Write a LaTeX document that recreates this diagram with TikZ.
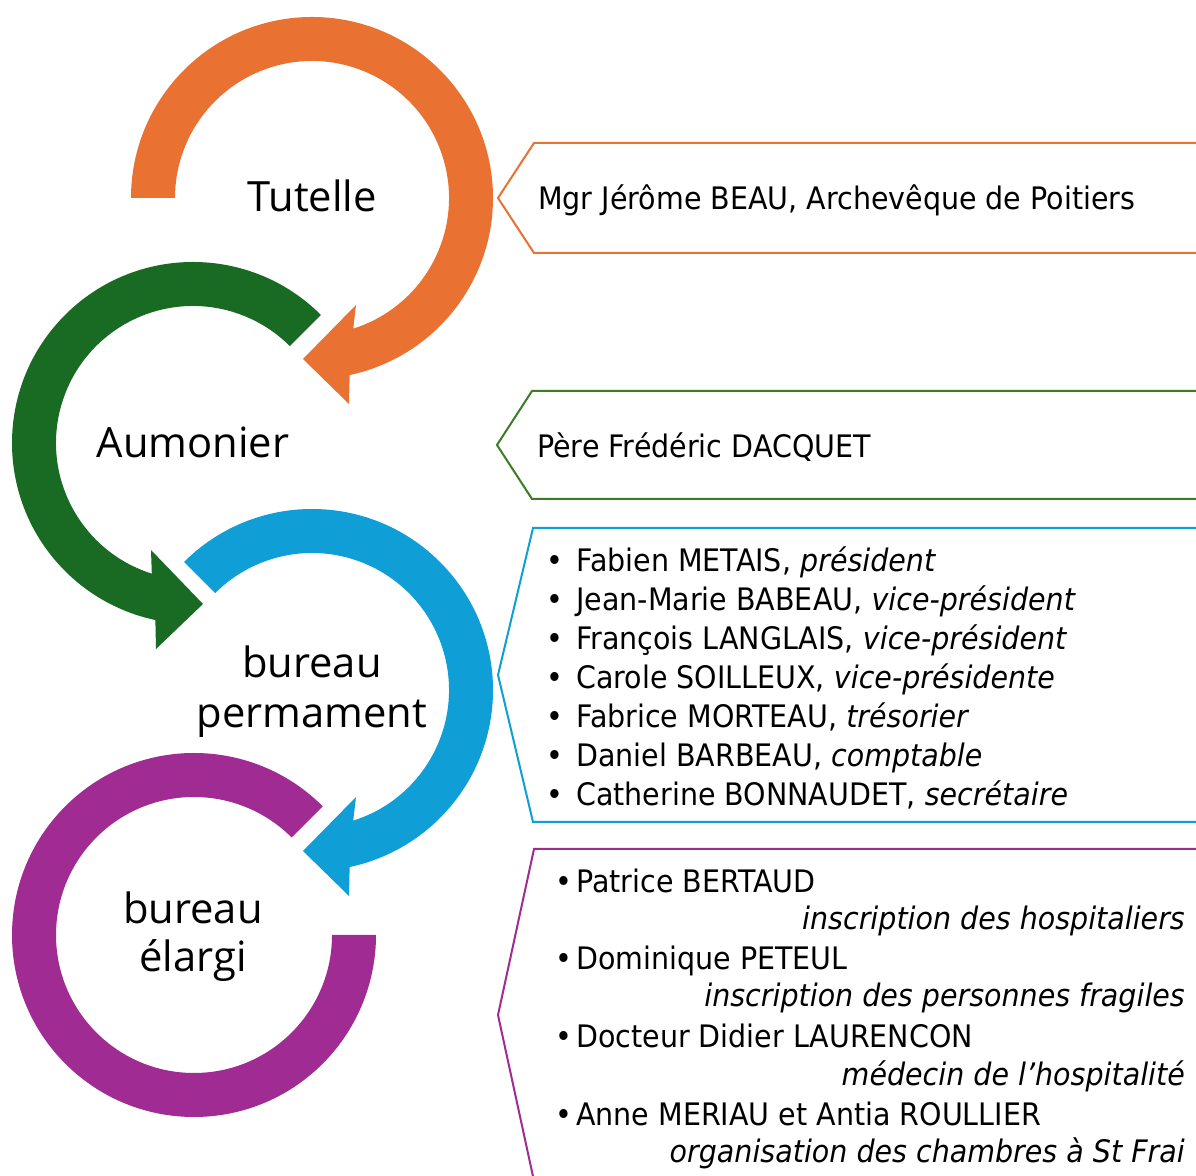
\documentclass[tikz,border=0pt]{standalone}
\usepackage{fontspec}
\setmainfont{DejaVu Sans}[FakeStretch=0.92]
\newfontfamily\lab{Open Sans}
\usetikzlibrary{calc}
\definecolor{corange}{HTML}{E97132}
\definecolor{cgreen}{HTML}{196B24}
\definecolor{cgreenl}{HTML}{3A7D22}
\definecolor{cblue}{HTML}{0F9ED5}
\definecolor{cpurple}{HTML}{A02B93}
\tikzset{
  ringlabel/.style={font=\lab\fontsize{41.7}{48}\selectfont, inner sep=0pt, anchor=base},
  calltext/.style={font=\fontsize{31}{38}\selectfont, inner sep=0pt, anchor=base west},
  callrole/.style={font=\fontsize{31}{38}\selectfont\itshape, inner sep=0pt, anchor=base east},
  bul/.style={font=\fontsize{31}{38}\selectfont, inner sep=0pt, anchor=base},
  callout/.style={line width=2pt, line join=miter},
}
\begin{document}
\begin{tikzpicture}[x=1pt,y=1pt]
\useasboundingbox (0,0) rectangle (1196,1175);
\clip (0,0) rectangle (1196,1175);
\fill[white] (0,0) rectangle (1196,1175);
% centres
\coordinate (O) at (312,977);
\coordinate (G) at (193,732);
\coordinate (B) at (312,485);
\coordinate (P) at (194,240);
% orange ring arrow
\fill[corange] ($(O)+(180:181)$) arc[start angle=180,end angle=-78,radius=181pt]
  -- ($(O)+(37,-206)$) -- ($(O)+(-9,-161)$) -- ($(O)+(44,-107)$)
  -- ($(O)+(-72.5:137)$) arc[start angle=-72.5,end angle=180,radius=137pt] -- cycle;
% green ring arrow
\fill[cgreen] ($(G)+(45:181)$) arc[start angle=45,end angle=258,radius=181pt]
  -- ($(G)+(-37,-206)$) -- ($(G)+(10,-161)$) -- ($(G)+(-42,-107)$)
  -- ($(G)+(252.5:137)$) arc[start angle=252.5,end angle=45,radius=137pt] -- cycle;
% blue ring arrow
\fill[cblue] ($(B)+(135:181)$) arc[start angle=135,end angle=-78,radius=181pt]
  -- ($(B)+(37,-206)$) -- ($(B)+(-9,-161)$) -- ($(B)+(44,-107)$)
  -- ($(B)+(-72.5:137)$) arc[start angle=-72.5,end angle=135,radius=137pt] -- cycle;
% purple ring
\fill[cpurple] ($(P)+(45:182)$) arc[start angle=45,end angle=360,radius=182pt]
  -- ($(P)+(0:138)$) arc[start angle=360,end angle=45,radius=138pt] -- cycle;
% ring labels
\node[ringlabel] (tut) at (312,963) {Tutelle};
\node[ringlabel] (aum) at (193,717) {Aumonier};
\node[ringlabel] (bp1) at (312,497) {bureau};
\node[ringlabel] (bp2) at (312,447) {permament};
\node[ringlabel] (be1) at (193,251) {bureau};
\node[ringlabel] (be2) at (193,203) {élargi};
% callouts
\draw[callout,corange] (1200,1032) -- (534,1032) -- (498,977) -- (534,922) -- (1200,922);
\draw[callout,cgreenl] (1200,784) -- (532,784) -- (497,730) -- (532,676) -- (1200,676);
\draw[callout,cblue] (1200,647) -- (533,647) -- (498,500) -- (533,353) -- (1200,353);
\draw[callout,cpurple] (1200,326) -- (534,326) -- (498,160) -- (534,-6) -- (1200,-6);
% texts
\node[calltext] (t1) at (538,965) {Mgr Jérôme BEAU, Archevêque de Poitiers};
\node[calltext] (t2) at (537,717) {Père Frédéric DACQUET};
\foreach \yy/\nm/\rl [count=\i] in {603/Fabien METAIS/président,564/Jean-Marie BABEAU/vice-président,525/François LANGLAIS/vice-président,486/Carole SOILLEUX/vice-présidente,447/Fabrice MORTEAU/trésorier,408/Daniel BARBEAU/comptable,369/Catherine BONNAUDET/secrétaire}{
  \node[bul] (bb\i) at (554.5,\yy) {•};
  \node[calltext] (bl\i) at (576,\yy) {\nm, \textit{\rl}};
}
\foreach \yy/\nm/\rl [count=\i] in {282/Patrice BERTAUD/inscription des hospitaliers,205/Dominique PETEUL/inscription des personnes fragiles,127/Docteur Didier LAURENCON/médecin de l’hospitalité,50/Anne MERIAU et Antia ROULLIER/organisation des chambres à St Frai}{
  \node[bul] (pb\i) at (564,\yy) {•};
  \node[calltext] (pn\i) at (576,\yy) {\nm};
  \node[callrole] (pr\i) at (1185,\yy-37) {\rl};
}
\end{tikzpicture}
\end{document}
